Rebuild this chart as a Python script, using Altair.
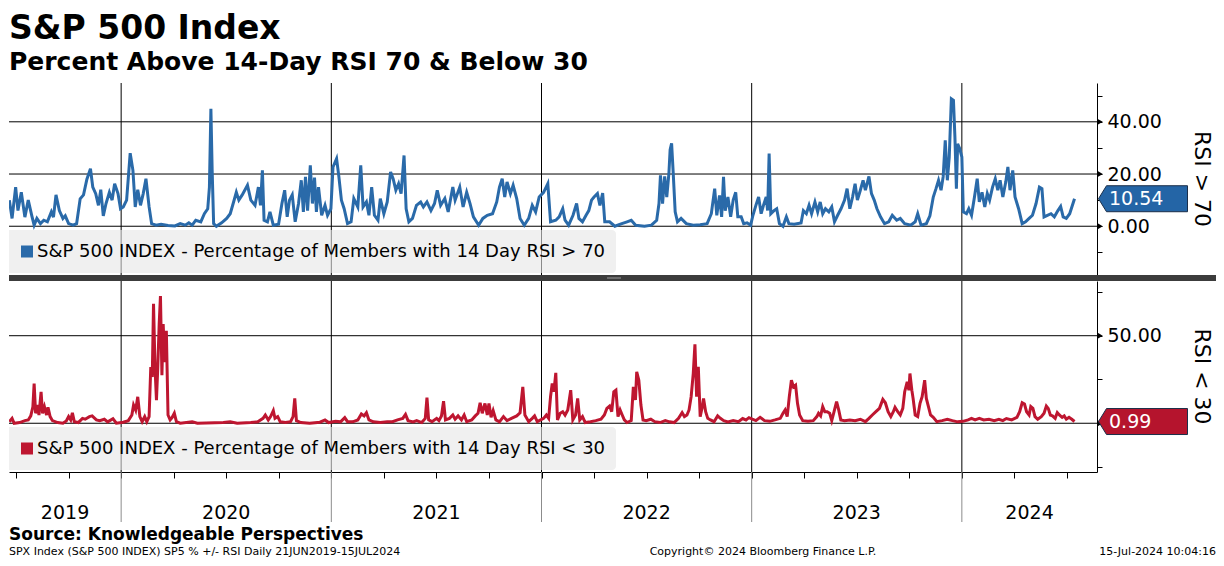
import altair as alt
import pandas as pd

FONT = "DejaVu Sans"
BLUE = "#2a6aa9"
BLUE_BOX = "#2465a6"
RED = "#be1630"
RED_BOX = "#b5142d"

W, H1, H2, GAP = 1088, 192, 191, 6

# ---------------- data ----------------
# x = fraction of the year, v = percent of members
above70_2019_f = [.468, .481, .498, .509, .525, .542, .558, .575, .586, .599, .616, .632, .649, .668, .678, .690, .706, .723, .734, .750, .772, .788, .805, .821, .837, .854, .865, .879, .892, .903, .915, .928, .944, .957, .969, .985, .997]
above70_2019_v = [10, 3, 15, 6, 13, 3.5, 10, 4, 0.4, 3, 1, 2.3, 1.7, 5.5, 3.5, 12, 6, 3, 4, 1, 0.4, 1, 10.5, 12, 18, 22, 15, 12.5, 8, 14, 4, 8.7, 13, 10, 16.3, 12.5, 6.7]

above70_2020_f = [.010, .026, .043, .056, .067, .079, .092, .105, .118, .133, .145, .166, .190, .223, .256, .281, .305, .322, .338, .355, .379, .396, .412, .420, .427, .433, .440, .453, .478, .502, .519, .535, .548, .560, .576, .601, .617, .637, .653, .663, .672, .680, .696, .708, .724, .749, .765, .778, .790, .801, .814, .828, .844, .857, .867, .877, .887, .900, .910, .920, .929, .939, .954, .970, .982, .998]
above70_2020_v = [7.4, 10, 28, 21.4, 7.4, 14, 8, 12.5, 18.2, 7.4, 1, 0.4, 0.8, 0.3, 0.1, 1, 0.4, 1.3, 0.4, 2.3, 1.7, 4.8, 6.7, 15, 45, 21.4, 1, 0, 1.3, 3, 4.8, 9.3, 13, 10, 12, 15.7, 10, 8, 15, 8, 21.4, 2.3, 1.7, 5.5, 0.4, 0.8, 8.7, 13.8, 3.6, 10, 12, 1.7, 8.7, 17.6, 5.5, 18.9, 6, 23.3, 8.7, 18.6, 5.5, 15, 4.2, 8, 4.2, 6.7]

above70_2021_f = [.008, .025, .036, .048, .061, .077, .094, .107, .126, .140, .151, .167, .179, .192, .205, .222, .233, .250, .266, .282, .294, .307, .320, .332, .346, .356, .369, .386, .405, .425, .438, .455, .474, .491, .504, .520, .540, .556, .578, .589, .611, .627, .644, .660, .676, .701, .721, .742, .767, .787, .800, .813, .825, .836, .852, .865, .882, .898, .918, .939, .956, .972, .989]
above70_2021_v = [22.7, 25.9, 18.9, 10, 6.7, 1, 1.7, 10.6, 7.4, 23.3, 7.4, 9.3, 4.2, 15, 4.2, 2.3, 10.6, 4.8, 9.3, 20.8, 18.2, 13.8, 16.3, 12.5, 27.1, 6.7, 1.7, 3, 8, 9.3, 7.4, 9.3, 6, 8.7, 13.8, 8, 10.6, 5.5, 15, 10, 15, 7.4, 13, 8.7, 3.6, 0.4, 3, 4.2, 4.8, 9.3, 15, 18.2, 11.2, 17, 12.5, 15.7, 10.6, 3, 0.4, 3, 8, 5.5, 11.2]

above70_2022_f = [.010, .030, .043, .068, .084, .101, .112, .129, .150, .167, .178, .195, .212, .225, .238, .250, .266, .278, .291, .301, .324, .349, .382, .407, .427, .448, .490, .523, .548, .559, .566, .576, .586, .596, .606, .612, .619, .626, .636, .647, .664, .689, .722, .755, .788, .808, .824, .834, .847, .857, .866, .874, .887, .900, .912, .924, .934, .950, .962, .978, .995]
above70_2022_v = [13, 16.3, 1.7, 2.3, 3.6, 6.7, 2.3, 0.4, 4.2, 8.7, 3, 1.7, 4.2, 6, 10, 11.2, 12.5, 8, 12.7, 1.7, 1.7, 0, 1, 1.7, 2.3, 0.4, 0, 0.4, 2.3, 8.7, 19.5, 8.7, 19.1, 11.2, 20.1, 29.3, 31.8, 21.4, 5.5, 1.7, 3, 1, 0.4, 0.6, 1, 4.8, 14.4, 4.2, 11.8, 3.6, 18.9, 6, 11.2, 3.6, 10, 13, 3.6, 3.6, 1, 1.3, 0.4]

above70_2023_f = [.006, .020, .033, .045, .056, .069, .076, .083, .091, .106, .119, .132, .149, .165, .177, .202, .235, .246, .260, .273, .285, .301, .314, .326, .338, .351, .367, .381, .394, .409, .425, .442, .454, .467, .480, .492, .503, .517, .530, .541, .558, .570, .583, .596, .613, .632, .652, .669, .690, .707, .728, .757, .778, .790, .806, .831, .848, .864, .877, .889, .901, .911, .921, .931, .940, .950, .960, .967, .974, .980, .990]
above70_2023_v = [4.2, 8, 11.2, 4.8, 8, 11.2, 6, 27.8, 4.8, 6, 6.7, 1, 0, 3.6, 1, 0.8, 1.3, 6, 4.8, 8, 4.8, 9.3, 5.5, 9.3, 4.8, 6.7, 5.5, 7.4, 1.7, 4.2, 6.7, 10, 14.4, 6.7, 11.2, 16.3, 10, 13.8, 17.6, 13.8, 19.1, 12.5, 10, 6.7, 3.6, 1, 1.7, 4.2, 2.3, 3, 1, 0.4, 1.7, 4.8, 0.4, 1, 4, 11.2, 14.4, 17.6, 13.8, 18.9, 32.9, 17.6, 26.5, 48.8, 48.2, 34.1, 14.4, 31.6, 29.7]

above70_2024_f = [.000, .007, .022, .033, .046, .060, .073, .083, .096, .109, .121, .132, .146, .159, .171, .182, .195, .209, .219, .229, .242, .253, .270, .287, .303, .320, .336, .353, .369, .381, .391, .407, .424, .440, .457, .470, .482, .497, .513, .536]
above70_2024_v = [26.5, 5.5, 4.8, 6.7, 4.2, 11.2, 18.2, 9.3, 13, 7.4, 12.5, 10, 15, 18.2, 13.8, 17.6, 11.2, 17, 22.7, 13.8, 21.4, 11.2, 6.7, 1, 1.7, 3, 4.2, 8.7, 15, 14.4, 3.6, 4.2, 4.8, 3.6, 6, 7.6, 3.6, 3, 4.8, 10.54]

below30_2019_f = [.468, .481, .491, .517, .542, .558, .570, .580, .586, .593, .603, .609, .619, .626, .635, .645, .652, .662, .673, .698, .723, .739, .750, .760, .768, .777, .796, .816, .829, .849, .862, .882, .898, .920, .936, .961, .977]
below30_2019_v = [0.9, 2.8, 0, 0.4, 1.5, 1.9, 4.2, 9.4, 22.6, 5.7, 10.4, 4.7, 17.9, 5.7, 9.4, 4.7, 9.1, 3.8, 1.5, 0.4, 0, 1.3, 3.8, 1.9, 6, 0.9, 0.4, 2.8, 2.3, 3.8, 4.2, 1.9, 1.5, 2.3, 0.8, 2.6, 0]

below30_2020_f = [.010, .034, .051, .059, .069, .079, .089, .100, .112, .122, .133, .141, .148, .154, .161, .168, .174, .181, .187, .194, .200, .207, .215, .223, .233, .243, .253, .263, .281, .338, .363, .486, .519, .552, .617, .650, .675, .686, .700, .711, .724, .732, .745, .757, .782, .806, .818, .826, .834, .855, .897, .946, .970, .987]
below30_2020_v = [0.6, 1.5, 4.7, 10.4, 7.5, 15.1, 3.8, 0.9, 3.8, 0.9, 3.8, 32.1, 26.4, 68.3, 32.1, 13.2, 31.1, 56.6, 72.6, 27.4, 56.6, 34.9, 52.8, 4.7, 1.9, 3.4, 5.7, 0.9, 0, 0.8, 0, 0.4, 0.8, 0, 0.4, 0.9, 2.8, 4.7, 1.9, 3.8, 7.2, 2.8, 3.8, 0.8, 0.4, 0.9, 3.8, 14.2, 1.5, 0.4, 0, 0.6, 1.9, 0.4]

below30_2021_f = [.020, .044, .064, .077, .102, .126, .143, .156, .167, .179, .200, .233, .266, .291, .315, .340, .353, .365, .389, .406, .430, .447, .455, .463, .479, .501, .512, .524, .534, .543, .562, .578, .589, .603, .619, .632, .644, .668, .685, .698, .708, .718, .731, .742, .750, .760, .770, .783, .800, .819, .836, .857, .882, .898, .911, .921, .939, .956, .967, .980]
below30_2021_v = [1.1, 0.8, 3.2, 0.9, 0.8, 1.9, 5.3, 4.2, 6, 1.9, 0.8, 0.4, 0.8, 0.9, 1.9, 2.8, 5.1, 1.5, 0.8, 1.5, 0.4, 2.8, 14.7, 1.9, 0.9, 2.8, 1.5, 4.2, 12.6, 1.9, 2.8, 4.7, 2.3, 4.2, 1.9, 4.7, 0.9, 1.9, 4.2, 5.7, 11.7, 5.7, 11.3, 4.7, 11.3, 3.4, 7.2, 1.9, 0.8, 3.8, 1.5, 2.8, 4.2, 6, 20.8, 4.7, 0.9, 2.8, 4.2, 0.9]

below30_2022_f = [.010, .023, .034, .043, .051, .059, .068, .076, .089, .101, .112, .125, .139, .149, .162, .172, .182, .195, .208, .233, .258, .283, .299, .311, .324, .334, .344, .354, .364, .374, .384, .394, .407, .427, .437, .447, .453, .463, .473, .483, .498, .520, .539, .564, .589, .609, .631, .652, .669, .680, .692, .702, .712, .722, .730, .738, .746, .755, .765, .771, .781, .791, .804, .821, .838, .851, .867, .887, .912, .937, .957, .973, .987]
below30_2022_v = [2.8, 4.7, 2.8, 15.2, 22.7, 18, 28.8, 1.9, 5.7, 6.6, 4.7, 7.6, 18.9, 1.9, 4.7, 14.2, 1.9, 3.8, 0.4, 0.9, 1.5, 2.3, 4.7, 8.5, 9.8, 6.6, 18, 18.9, 3.8, 7.6, 4.7, 1.9, 0.4, 1.5, 20.8, 13.3, 29.4, 24.6, 10.4, 1.9, 1.5, 2.3, 0.9, 0.4, 1.5, 0.8, 0.4, 2.8, 6.1, 3.8, 4.7, 7.6, 15.2, 28.4, 45.1, 15.2, 32.2, 3.8, 9.5, 14.2, 6.6, 2.8, 1.9, 0.9, 4.2, 2.8, 1.5, 0.8, 1.5, 0.9, 2.7, 1.9, 3.2]

below30_2023_f = [.003, .020, .040, .061, .086, .111, .136, .149, .159, .169, .179, .189, .199, .209, .218, .228, .243, .268, .293, .310, .318, .328, .338, .348, .359, .371, .381, .392, .404, .414, .424, .442, .467, .492, .517, .541, .558, .574, .591, .608, .624, .636, .649, .662, .674, .682, .695, .707, .719, .728, .740, .748, .753, .762, .768, .778, .790, .801, .811, .823, .831, .841, .851, .864, .881, .906, .931, .955, .980]
below30_2023_v = [2.3, 1.5, 3.4, 1.5, 1.1, 1.9, 2.8, 5.7, 7.6, 3.8, 15.2, 24.6, 20.8, 21.8, 11.4, 4.7, 1.5, 1.1, 1.5, 3.8, 5.7, 4.2, 9.5, 6.6, 6.6, 5.7, 1.5, 6.6, 12.3, 7.6, 1.9, 1.5, 1.9, 1.5, 2.3, 0.9, 2.8, 4.7, 6.6, 8.5, 13.6, 11.7, 6.6, 3.8, 6.6, 9.1, 6.6, 4.7, 8.5, 18, 23.7, 18.9, 28.4, 18.9, 14.2, 4.7, 3.8, 11.4, 15.2, 24.6, 14.2, 9.5, 4.7, 3.4, 0.9, 1.5, 2.3, 1.5, 0.8]

below30_2024_f = [.005, .030, .046, .063, .083, .104, .129, .154, .176, .195, .212, .237, .262, .275, .287, .298, .308, .320, .328, .338, .348, .361, .378, .391, .402, .411, .421, .431, .444, .454, .464, .477, .487, .497, .510, .523, .536]
below30_2024_v = [1.1, 1.9, 2.8, 1.9, 2.8, 1.9, 2.3, 1.5, 2.3, 1.5, 2.7, 1.9, 3.4, 6.6, 11.7, 11, 6.6, 4.7, 9.5, 8.5, 3.8, 2.3, 3.8, 5.7, 9.8, 8.5, 4.7, 4.2, 2.8, 6.1, 4.7, 3.4, 4.2, 2.3, 3.4, 2.3, 0.99]

top_last = 10.54
bot_last = 0.99

x_domain = [2019.4664, 2024.643]
year_starts = [2020, 2021, 2022, 2023, 2024]
year_labels = ["2019", "2020", "2021", "2022", "2023", "2024"]
year_label_pos = [2019.733, 2020.5, 2021.5, 2022.5, 2023.5, 2024.322]
quarter_ticks = [2019.5, 2019.75, 2020.0, 2020.25, 2020.5, 2020.75, 2021.0, 2021.25, 2021.5, 2021.75,
                 2022.0, 2022.25, 2022.5, 2022.75, 2023.0, 2023.25, 2023.5, 2023.75, 2024.0, 2024.25, 2024.5]

top_domain = [-18.67, 54.86]
top_ticks = [-10, 0, 10, 20, 30, 40, 50]
top_grid = [0, 20, 40]
bot_domain = [-27.84, 81.25]
bot_ticks = [-25, 0, 25, 50, 75]
bot_grid = [0, 50]


def series(parts):
    t, v = [], []
    for yr, fr, vals in parts:
        t += [yr + f for f in fr]
        v += vals
    return pd.DataFrame({"x": t, "v": v})


top_df = series([(2019, above70_2019_f, above70_2019_v), (2020, above70_2020_f, above70_2020_v),
                 (2021, above70_2021_f, above70_2021_v), (2022, above70_2022_f, above70_2022_v),
                 (2023, above70_2023_f, above70_2023_v), (2024, above70_2024_f, above70_2024_v)])
bot_df = series([(2019, below30_2019_f, below30_2019_v), (2020, below30_2020_f, below30_2020_v),
                 (2021, below30_2021_f, below30_2021_v), (2022, below30_2022_f, below30_2022_v),
                 (2023, below30_2023_f, below30_2023_v), (2024, below30_2024_f, below30_2024_v)])

one = pd.DataFrame({"k": [0]})

X_top = alt.X("x:Q", scale=alt.Scale(domain=x_domain, nice=False, zero=False), axis=None)
X_bot = alt.X("x:Q", scale=alt.Scale(domain=x_domain, nice=False, zero=False),
              axis=alt.Axis(orient="bottom", values=quarter_ticks, labels=False, ticks=True, tickSize=6,
                            tickColor="black", tickWidth=1, domain=True, domainColor="black",
                            domainWidth=1, grid=False, title=None))


def yenc(dom, vals, step):
    return alt.Y("v:Q", scale=alt.Scale(domain=dom, nice=False, zero=False),
                 axis=alt.Axis(orient="right", values=vals, tickSize=5, tickColor="black", tickWidth=1,
                               domain=True, domainColor="black", domainWidth=1, grid=False, title=None,
                               labelFont=FONT, labelFontSize=19, labelColor="black", labelPadding=5,
                               labelOverlap=False,
                               labelExpr=f"datum.value % {step} == 0 ? format(datum.value, '.2f') : ''"))


Y_top = yenc(top_domain, top_ticks, 20)
Y_bot = yenc(bot_domain, bot_ticks, 50)


def text_layer(txt, x, y, size, weight="normal", align="left", baseline="alphabetic", angle=0, color="black"):
    return alt.Chart(pd.DataFrame({"t": [txt]})).mark_text(
        font=FONT, fontSize=size, fontWeight=weight, align=align, baseline=baseline, angle=angle, color=color
    ).encode(x=alt.value(x), y=alt.value(y), text="t:N")


BOX_PATH = "M-1,0L-0.82,-0.292L1,-0.292L1,0.292L-0.82,0.292Z"


def panel(df, X, Y, H, color, box_color, grid_vals, last_val, legend_text, side_label, extra_top=(), extra_bottom=()):
    layers = list(extra_bottom)
    layers += [
        alt.Chart(pd.DataFrame({"x": year_starts})).mark_rule(color="black", strokeWidth=1).encode(x=X),
        alt.Chart(pd.DataFrame({"v": grid_vals})).mark_rule(color="black", strokeWidth=1).encode(y=Y),
        alt.Chart(pd.DataFrame({"v": grid_vals})).mark_point(shape="triangle-right", filled=True, color="black",
                                                            size=40, opacity=1).encode(y=Y, x=alt.value(W + 3)),
        alt.Chart(one).mark_rect(color="#e6e6e6", opacity=0.6, cornerRadiusTopRight=4,
                                 cornerRadiusBottomRight=4).encode(
            x=alt.value(0), x2=alt.value(607), y=alt.value(H - 45), y2=alt.value(H - 2)),
        alt.Chart(one).mark_square(color=color, size=144, opacity=1).encode(
            x=alt.value(18), y=alt.value(H - 23.5)),
        text_layer(legend_text, 28, H - 23.5, 18, baseline="middle"),
        alt.Chart(df).mark_line(color=color, strokeWidth=3, clip=True).encode(x=X, y=Y),
        alt.Chart(pd.DataFrame({"v": [last_val]})).mark_point(
            shape=BOX_PATH, size=7921, filled=True, fill=box_color, stroke="#1b2f4a", strokeWidth=1, opacity=1
        ).encode(x=alt.value(W + 46), y=Y),
        alt.Chart(pd.DataFrame({"v": [last_val]})).mark_text(
            font=FONT, fontSize=19, color="white", align="left", baseline="middle"
        ).encode(x=alt.value(W + 12), y=Y, text=alt.Text("v:Q", format=".2f")),
        text_layer(side_label, W + 105, H / 2, 22, align="center", baseline="middle", angle=90),
    ]
    layers += list(extra_top)
    return alt.layer(*layers).properties(width=W, height=H)


top_extra = [
    alt.Chart(one).mark_rect(color="#3c3c3c").encode(
        x=alt.value(0), x2=alt.value(1207), y=alt.value(H1), y2=alt.value(H1 + GAP)),
    alt.Chart(one).mark_rule(color="#9a9a9a", strokeWidth=1).encode(
        x=alt.value(598), x2=alt.value(612), y=alt.value(H1 + GAP / 2)),
    # white spacer so the title glyphs stay inside the drawing
    alt.Chart(one).mark_rect(color="white").encode(
        x=alt.value(2), x2=alt.value(3), y=alt.value(-75), y2=alt.value(-60)),
    text_layer("S&P 500 Index", 0, -44, 33, weight="bold"),
    text_layer("Percent Above 14-Day RSI 70 & Below 30", 0, -13, 25, weight="bold"),
]

bot_extra_under = [
    alt.Chart(pd.DataFrame({"x": year_starts})).mark_rule(color="#8c8c8c", strokeWidth=1).encode(
        x=X_bot, y=alt.value(H2), y2=alt.value(H2 + 50)),
]
bot_extra = [
    alt.Chart(pd.DataFrame({"x": year_label_pos, "label": year_labels})).mark_text(
        font=FONT, fontSize=19, color="black", align="center", baseline="alphabetic"
    ).encode(x=X_bot, y=alt.value(H2 + 47), text="label:N"),
    text_layer("Source: Knowledgeable Perspectives", 0, H2 + 68, 17, weight="bold"),
    text_layer("SPX Index (S&P 500 INDEX) SP5 % +/- RSI  Daily 21JUN2019-15JUL2024", 0, H2 + 83, 11),
    text_layer("Copyright\u00a9 2024 Bloomberg Finance L.P.", 754, H2 + 83, 11, align="center"),
    text_layer("15-Jul-2024 10:04:16", 1207, H2 + 83, 11, align="right"),
]

top = panel(top_df, X_top, Y_top, H1, BLUE, BLUE_BOX, top_grid, top_last,
            "S&P 500 INDEX - Percentage of Members with 14 Day RSI > 70", "RSI > 70",
            extra_top=top_extra)
bottom = panel(bot_df, X_bot, Y_bot, H2, RED, RED_BOX, bot_grid, bot_last,
               "S&P 500 INDEX - Percentage of Members with 14 Day RSI < 30", "RSI < 30",
               extra_top=bot_extra, extra_bottom=bot_extra_under)

chart = alt.vconcat(
    top, bottom, spacing=GAP, bounds="flush",
    padding={"left": 0, "top": 0, "right": 0, "bottom": 0}, background="white"
).configure_view(stroke=None)

chart.save("out.html", embed_options={"renderer": "svg", "actions": False})
